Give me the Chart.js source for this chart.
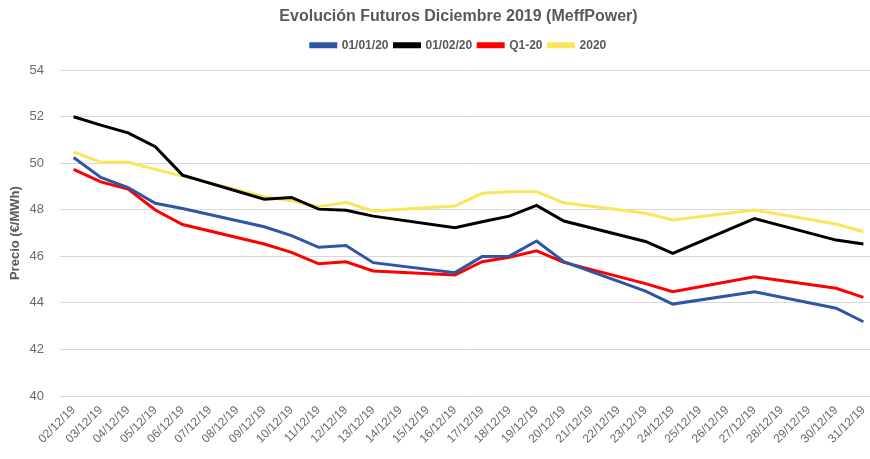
<!DOCTYPE html>
<html>
<head>
<meta charset="utf-8">
<script src="https://cdn.jsdelivr.net/npm/chart.js@4.4.1/dist/chart.umd.min.js"></script>
<style>
html,body{margin:0;padding:0;background:#fff;overflow:hidden;}
#wrap{width:870px;height:459px;overflow:hidden;position:relative;}
canvas{display:block;}
</style>
</head>
<body>
<div id="wrap"><canvas id="c" width="909" height="459"></canvas></div>
<script>
const labels = ["02/12/19","03/12/19","04/12/19","05/12/19","06/12/19","07/12/19","08/12/19","09/12/19","10/12/19","11/12/19","12/12/19","13/12/19","14/12/19","15/12/19","16/12/19","17/12/19","18/12/19","19/12/19","20/12/19","21/12/19","22/12/19","23/12/19","24/12/19","25/12/19","26/12/19","27/12/19","28/12/19","29/12/19","30/12/19","31/12/19"];
const ene20 = [50.25,49.39,48.96,48.28,48.06,null,null,47.27,46.89,46.39,46.47,45.73,null,null,45.30,45.99,46.01,46.66,45.77,null,null,44.51,43.95,null,null,44.48,null,null,43.77,43.19];
const feb20 = [52.00,51.64,51.31,50.71,49.49,null,null,48.46,48.53,48.03,47.98,47.73,null,null,47.23,47.49,47.73,48.19,47.52,null,null,46.64,46.13,null,null,47.62,null,null,46.70,46.53];
const q120  = [49.74,49.20,48.89,47.99,47.37,null,null,46.53,46.17,45.68,45.77,45.37,null,null,45.20,45.77,45.96,46.24,45.74,null,null,44.83,44.48,null,null,45.12,null,null,44.63,44.24];
const y2020 = [50.49,50.04,50.04,49.74,49.45,null,null,48.56,48.39,48.13,48.32,47.95,null,null,48.16,48.71,48.78,48.78,48.30,null,null,47.85,47.56,null,null,47.99,null,null,47.39,47.06];
const yTicks = [40,42,44,46,48,50,52,54];

const gray = '#595959';
const tickGray = '#6a6a6a';
const FONT = '"Liberation Sans", Arial, sans-serif';
function ds(label, data, color){
  return {label, data, borderColor:color, backgroundColor:color, borderWidth:3, pointRadius:0, pointHoverRadius:0, tension:0, spanGaps:true, borderJoinStyle:'miter'};
}
new Chart(document.getElementById('c'), {
  type:'line',
  data:{labels, datasets:[
    ds('01/01/20', ene20, '#2F55A5'),
    ds('01/02/20', feb20, '#000000'),
    ds('Q1-20', q120, '#FF0000'),
    ds('2020', y2020, '#F9E65A')
  ]},
  options:{
    responsive:false, animation:false,
    layout:{padding:{left:8,right:0,top:4,bottom:0}},
    plugins:{
      title:{display:true, text:'Evolución Futuros Diciembre 2019 (MeffPower)', color:gray, font:{family:FONT, size:16, weight:'bold'}, padding:{top:3,bottom:7}},
      legend:{display:true, labels:{color:gray, font:{family:FONT, size:12, weight:'bold'}, boxWidth:25, boxHeight:3, padding:6}},
      tooltip:{enabled:false}
    },
    scales:{
      x:{offset:true, grid:{display:false, drawTicks:false}, border:{display:false},
        ticks:{color:tickGray, font:{family:FONT, size:12}, maxRotation:45, minRotation:45, autoSkip:false, padding:7},
        afterFit(s){ s.height = 63; }
      },
      xTop:{position:'top', display:true, grid:{display:false, drawTicks:false}, border:{display:false}, ticks:{display:false},
        afterFit(s){ s.height = 9; }
      },
      y:{min:40, max:54, afterBuildTicks(s){ s.ticks = yTicks.map(v=>({value:v})); },
        grid:{color:'#D9D9D9', lineWidth:1, drawTicks:false}, border:{display:false},
        ticks:{color:tickGray, font:{family:FONT, size:13}, padding:16},
        title:{display:true, text:'Precio (€/MWh)', color:gray, font:{family:FONT, size:13, weight:'bold'}, padding:0},
        afterFit(s){ s.width = 52; }
      },
      yRight:{position:'right', display:true, grid:{display:false, drawTicks:false}, border:{display:false}, ticks:{display:false},
        afterFit(s){ s.width = 32; }
      }
    }
  }
});
</script>
</body>
</html>
